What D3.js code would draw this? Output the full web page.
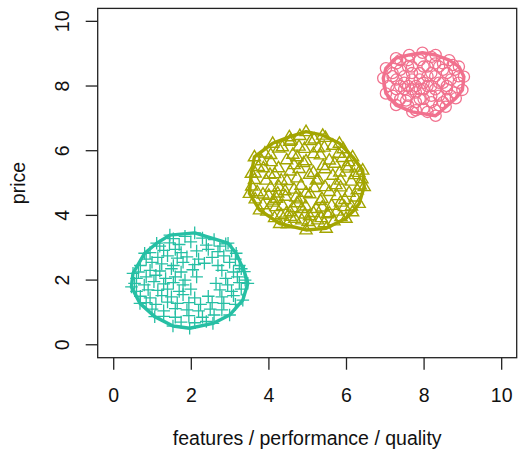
<!DOCTYPE html>
<html><head><meta charset="utf-8">
<script src="https://cdn.jsdelivr.net/npm/d3@7"></script>
<style>body{margin:0;background:#fff}svg{display:block}text{font-family:"Liberation Sans",Arial,sans-serif}</style>
</head><body><svg id="c" width="518" height="452"></svg>
<script>
const xTicks = [0, 2, 4, 6, 8, 10];
const yTicks = [0, 2, 4, 6, 8, 10];
const xLabel = "features / performance / quality";
const yLabel = "price";
const groupNames = ["high", "mid", "low"];
const groupColors = ["#F1718E", "#A3A500", "#26BFA4"];
const groupShapes = ["circle", "triangle", "plus"];

const pinkPts = [
[6.96,8.24],[7.03,8.55],[7.29,8.86],[7.63,8.96],[7.97,9.03],[8.31,8.96],[8.66,8.80],[8.91,8.60],[9.04,8.29],[9.00,7.88],[8.83,7.62],[8.57,7.36],[8.31,7.08],[7.71,7.20],[7.29,7.41],[7.03,7.77],
[7.2,8.3],[7.4,8.5],[7.5,8.1],[7.3,7.9],[7.6,7.7],[7.8,8.0],[7.9,8.4],[8.1,8.6],[8.3,8.3],[8.5,8.5],[8.7,8.2],[8.6,7.9],[8.4,7.7],[8.2,7.5],[8.0,7.3],[7.8,7.5],[7.6,7.4],[7.4,7.6],[7.2,7.7],[7.1,8.0],
[7.3,8.7],[7.6,8.8],[7.9,8.8],[8.2,8.9],[8.5,8.7],[8.8,8.5],[8.9,8.1],[8.8,7.8],[8.6,7.6],[8.4,7.4],[8.1,7.2],[7.9,7.9],[8.0,8.1],[8.2,8.0],[8.3,7.9],[7.7,8.2],[7.5,8.3],[7.7,8.6],[8.0,8.6],[8.4,8.6],
[8.6,8.4],[8.5,8.1],[8.2,7.7],[7.9,7.6],[7.7,7.9],[7.4,8.0],[7.2,8.4],[7.5,7.9],[7.8,7.25],[8.3,7.25],[8.7,7.7],[8.9,8.3],[8.1,8.3],[7.9,8.2],[7.6,8.0],[8.0,7.9],[8.4,8.1],[8.6,8.0],[7.3,8.2],[7.7,8.4],
[8.2,8.4],[8.3,8.7],[7.6,8.6],[7.4,8.8],[8.0,7.6],[8.5,7.5],[7.8,7.8],[8.1,8.0],[7.55,7.55],[8.75,8.65]
];
const olivePts = [
[3.64,5.81],[4.11,6.23],[4.54,6.43],[4.97,6.59],[5.40,6.48],[5.83,6.23],[6.17,5.81],[6.43,5.40],[6.47,4.89],[6.34,4.37],[6.00,3.91],[5.49,3.60],[4.97,3.55],[4.29,3.75],[3.77,4.17],[3.51,4.68],[3.56,5.30],
[4.58,6.33],[4.81,6.47],[5.18,6.36],[5.47,6.41],[4.36,6.12],[4.55,6.29],[4.79,6.14],[5.09,6.31],[5.29,6.09],[5.66,6.17],
[3.91,5.93],[4.27,6.08],[4.63,5.89],[4.93,6.07],[5.16,5.91],[5.44,6.11],[5.81,5.92],[5.93,6.06],
[3.83,5.69],[4.06,5.88],[4.47,5.72],[4.74,5.81],[4.97,5.69],[5.34,5.87],[5.57,5.71],[5.91,5.79],[6.07,5.66],
[3.74,5.51],[4.07,5.66],[4.26,5.47],[4.66,5.57],[4.91,5.63],[5.41,5.54],[5.71,5.61],[6.02,5.53],[6.26,5.49],
[3.66,5.31],[3.87,5.47],[4.16,5.29],[4.56,5.37],[4.79,5.45],[5.16,5.33],[5.46,5.44],[5.84,5.34],[6.04,5.46],[6.33,5.33],
[3.64,5.11],[4.04,5.27],[4.33,5.09],[4.74,5.16],[5.06,5.27],[5.28,5.12],[5.66,5.24],[5.86,5.09],[6.22,5.26],[6.41,5.13],
[3.57,4.91],[3.94,5.09],[4.27,4.89],[4.48,5.08],[4.84,4.93],[5.24,5.09],[5.46,4.89],[5.74,4.95],[6.14,5.06],[6.37,4.94],
[3.71,4.73],[4.06,4.87],[4.24,4.69],[4.66,4.81],[4.97,4.71],[5.19,4.86],[5.57,4.74],[5.86,4.88],[6.08,4.71],[6.29,4.79],
[3.66,4.51],[3.86,4.66],[4.21,4.53],[4.44,4.59],[4.83,4.51],[5.07,4.67],[5.38,4.52],[5.77,4.61],[5.97,4.49],[6.24,4.57],
[3.86,4.33],[4.14,4.47],[4.37,4.31],[4.74,4.39],[4.96,4.29],[5.34,4.46],[5.63,4.31],[5.86,4.41],[6.14,4.29],
[3.96,4.13],[4.19,4.27],[4.56,4.11],[4.86,4.21],[5.16,4.09],[5.39,4.26],[5.76,4.13],[5.96,4.27],[6.17,4.11],
[4.16,3.93],[4.46,4.07],[4.68,3.91],[5.06,3.99],[5.36,3.93],[5.57,4.08],[5.87,3.96],
[4.49,3.74],[4.86,3.86],[5.09,3.69],[5.44,3.77],[5.69,3.83],
[4.33,4.02],[4.63,4.24],[4.94,4.04],[5.23,4.21],[4.11,4.41],[4.43,4.76],[5.02,3.81],[4.71,4.57],[5.52,4.05],[5.27,3.86],[4.57,3.97],[4.01,4.62]
];
const tealPts = [
[0.51,2.21],[0.81,2.83],[1.12,3.14],[1.46,3.39],[2.10,3.46],[2.96,3.14],[3.17,2.83],[3.38,2.26],[3.47,1.90],[3.34,1.38],[3.00,0.92],[2.57,0.66],[1.97,0.51],[1.54,0.58],[1.07,0.87],[0.69,1.28],[0.47,1.79],
[1.55,3.28],[1.85,3.35],[2.30,3.30],[2.60,3.25],
[1.20,3.05],[1.45,3.15],[1.70,3.10],[2.00,3.18],[2.40,3.08],[2.75,3.05],[2.90,3.12],
[0.95,2.85],[1.30,2.92],[1.60,2.95],[1.75,2.85],[2.15,2.90],[2.45,2.95],[2.70,2.88],[3.05,2.90],
[0.85,2.65],[1.15,2.70],[1.40,2.75],[1.65,2.68],[1.90,2.72],[2.20,2.65],[2.55,2.70],[2.85,2.75],[3.15,2.65],
[0.70,2.45],[1.00,2.55],[1.25,2.50],[1.55,2.45],[1.80,2.55],[2.10,2.48],[2.35,2.52],[2.70,2.45],[3.00,2.55],[3.25,2.45],
[0.65,2.25],[0.95,2.30],[1.20,2.28],[1.50,2.35],[1.75,2.25],[2.05,2.32],[2.80,2.30],[3.10,2.25],[3.30,2.35],
[0.60,2.05],[0.85,2.10],[1.10,2.15],[1.35,2.05],[1.60,2.10],[1.85,2.00],[2.15,2.10],[2.90,2.05],[3.20,2.10],[3.40,2.00],
[0.55,1.90],[0.80,1.85],[1.05,1.95],[1.30,1.88],[1.55,1.92],[1.80,1.85],[2.65,1.90],[2.95,1.85],[3.25,1.92],
[0.60,1.65],[0.90,1.70],[1.15,1.68],[1.40,1.72],[1.70,1.65],[2.00,1.72],[2.75,1.70],[3.05,1.65],[3.30,1.72],
[0.70,1.50],[0.95,1.45],[1.25,1.52],[1.50,1.48],[1.80,1.55],[2.10,1.45],[2.45,1.50],[2.80,1.48],[3.10,1.52],
[0.85,1.30],[1.10,1.25],[1.40,1.32],[1.65,1.28],[1.95,1.30],[2.25,1.25],[2.55,1.30],[2.85,1.28],[3.15,1.25],
[1.00,1.10],[1.30,1.05],[1.60,1.12],[1.90,1.08],[2.20,1.05],[2.50,1.10],[2.80,1.08],
[1.30,0.88],[1.60,0.85],[1.95,0.90],[2.30,0.85],[2.60,0.92],
[1.75,0.70],[2.10,0.68],[2.40,0.72]
];
const groups = [pinkPts, olivePts, tealPts];

const svg = d3.select("#c");
const x = d3.scaleLinear().domain([-0.4, 10.4]).range([97.7, 516.7]);
const y = d3.scaleLinear().domain([-0.4, 10.4]).range([357.7, 8.4]);
const ink = "#222";

groups.forEach((pts, gi) => {
  const col = groupColors[gi];
  const g = svg.append("g");
  pts.forEach(p => {
    const cx = x(p[0]), cy = y(p[1]);
    if (groupShapes[gi] === "circle") {
      g.append("circle").attr("cx", cx).attr("cy", cy).attr("r", 5.6)
        .attr("fill", "none").attr("stroke", col).attr("stroke-width", 1.3);
    } else if (groupShapes[gi] === "triangle") {
      const s = 6.4;
      g.append("path").attr("d", `M${cx},${cy - s}L${cx + s * 0.95},${cy + s * 0.62}L${cx - s * 0.95},${cy + s * 0.62}Z`)
        .attr("fill", "none").attr("stroke", col).attr("stroke-width", 1.4);
    } else {
      const s = 6.3;
      g.append("path").attr("d", `M${cx - s},${cy}H${cx + s}M${cx},${cy - s}V${cy + s}`)
        .attr("fill", "none").attr("stroke", col).attr("stroke-width", 1.3);
    }
  });
  const hull = d3.polygonHull(pts.map(p => [x(p[0]), y(p[1])]));
  svg.append("path").attr("d", "M" + hull.join("L") + "Z")
    .attr("fill", "none").attr("stroke", col).attr("stroke-width", 3.4)
    .attr("stroke-linejoin", "round");
});

svg.append("rect").attr("x", x(-0.4)).attr("y", y(10.4))
  .attr("width", x(10.4) - x(-0.4)).attr("height", y(-0.4) - y(10.4))
  .attr("fill", "none").attr("stroke", ink).attr("stroke-width", 1.3);

const xAx = svg.append("g").attr("transform", `translate(0,${y(-0.4)})`)
  .call(d3.axisBottom(x).tickValues(xTicks).tickSize(12).tickPadding(18).tickFormat(d3.format("d")));
const yAx = svg.append("g").attr("transform", `translate(${x(-0.4)},0)`)
  .call(d3.axisLeft(y).tickValues(yTicks).tickSize(12).tickFormat(d3.format("d")));
[xAx, yAx].forEach(a => {
  a.select(".domain").remove();
  a.selectAll("line").attr("stroke", ink).attr("stroke-width", 1.3);
  a.selectAll("text").attr("fill", "#111").style("font-size", "19.5px")
    .style("font-family", '"Liberation Sans", Arial, sans-serif');
});
yAx.selectAll("text").attr("x", null).attr("dy", null)
  .attr("text-anchor", "middle")
  .attr("transform", d => `translate(${62.5 - x(-0.4)},${y(d)}) rotate(-90)`)
  .attr("y", 0).attr("dy", "0.35em");
yAx.selectAll(".tick").attr("transform", null);
yAx.selectAll(".tick line").attr("transform", d => `translate(0,${y(d)})`);

svg.append("text").attr("x", (x(-0.4) + x(10.4)) / 2).attr("y", 445)
  .attr("text-anchor", "middle").style("font-size", "19.5px").attr("fill", "#111").text(xLabel);
svg.append("text").attr("transform", `translate(25,${(y(-0.4) + y(10.4)) / 2}) rotate(-90)`)
  .attr("text-anchor", "middle").style("font-size", "19.5px").attr("fill", "#111").text(yLabel);
</script></body></html>
